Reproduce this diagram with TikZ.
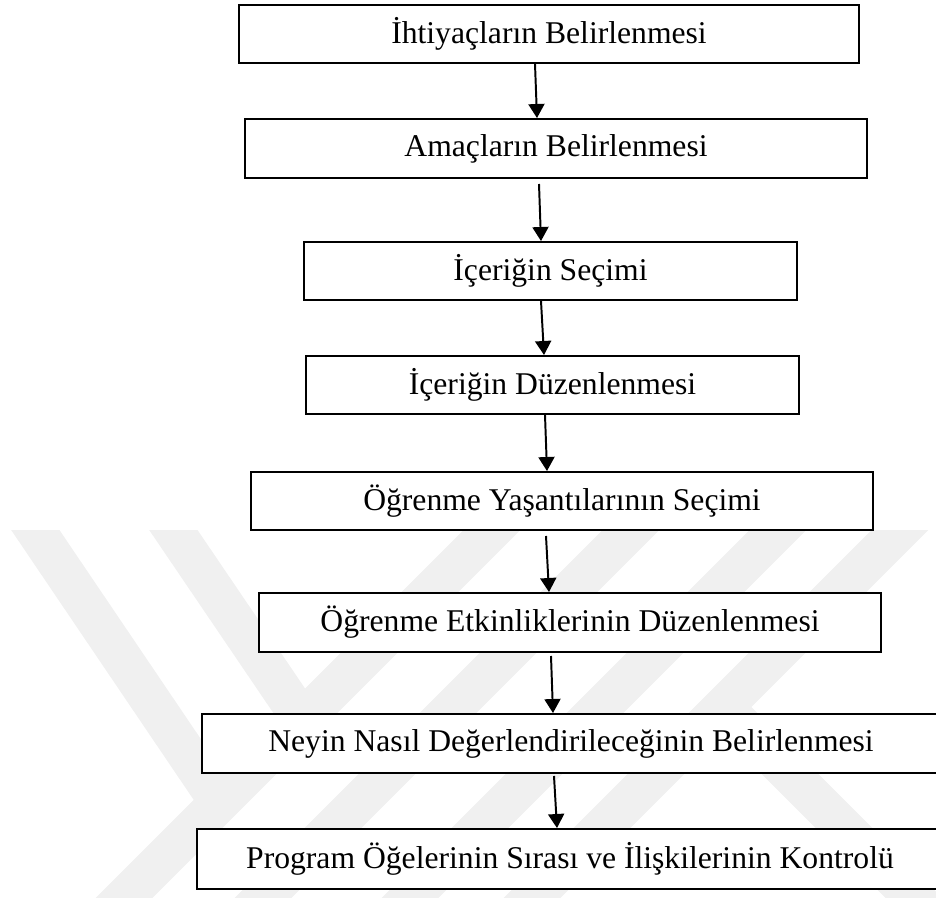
\documentclass[tikz,border=0pt]{standalone}
\usepackage{xcolor}
\usepackage{fontspec}
\setmainfont{Liberation Serif}
\usepackage{tikz}
\usetikzlibrary{arrows.meta,calc}
\newdimen\pxu \pxu=0.025cm
\definecolor{wmgray}{RGB}{240,240,240}
\tikzset{
  stepbox/.style={draw=black, line width=1.4pt, fill=white, inner sep=0pt,
    minimum height=58\pxu, align=center, font=\fontsize{22.5}{27}\selectfont},
  flow/.style={-{Triangle[length=3.5mm, width=4mm]}, line width=1.4pt},
  wmstripe/.style={draw=wmgray, line width=40\pxu, line cap=butt}
}

\begin{document}
\begin{tikzpicture}[x=0.025cm, y=-0.025cm]
\clip (0,0) rectangle (936,897);

% faint background mark
\begin{scope}
\clip (0,530) rectangle (936,897);
\draw[wmstripe] (15,500) -- (222,806);
\draw[wmstripe] (153,500) -- (305,724);
\draw[wmstripe] (102,920) -- (522,500);
\draw[wmstripe] (241,920) -- (661,500);
\draw[wmstripe] (388,920) -- (808,500);
\draw[wmstripe] (510,920) -- (930,500);
\draw[wmstripe] (723,707) -- (936,920);
\end{scope}

\node[stepbox, minimum width=620\pxu] (b1) at (549,34) {İhtiyaçların Belirlenmesi};
\node[stepbox, minimum width=622\pxu, minimum height=59\pxu] (b2) at (556,148.5) {Amaçların Belirlenmesi};
\node[stepbox, minimum width=493\pxu] (b3) at (550.5,271) {İçeriğin Seçimi};
\node[stepbox, minimum width=493\pxu] (b4) at (552.5,385) {İçeriğin Düzenlenmesi};
\node[stepbox, minimum width=622\pxu] (b5) at (562,501) {Öğrenme Yaşantılarının Seçimi};
\node[stepbox, minimum width=622\pxu, minimum height=59\pxu] (b6) at (570,622.5) {Öğrenme Etkinliklerinin Düzenlenmesi};
\node[stepbox, minimum width=738\pxu, minimum height=59\pxu] (b7) at (571,743.5) {Neyin Nasıl Değerlendirileceğinin Belirlenmesi};
\node[stepbox, minimum width=746\pxu, minimum height=60\pxu] (b8) at (570,859) {Program Öğelerinin Sırası ve İlişkilerinin Kontrolü};

\draw[flow] ($(b1.south)+(-14,0)$) -- ($(b2.north)+(-19,0)$);
\draw[flow] ($(b2.south)+(-17,5)$) -- ($(b3.north)+(-9.5,0)$);
\draw[flow] ($(b3.south)+(-9.5,0)$) -- ($(b4.north)+(-8.5,0)$);
\draw[flow] ($(b4.south)+(-7.5,0)$) -- ($(b5.north)+(-15,0)$);
\draw[flow] ($(b5.south)+(-16,5)$) -- ($(b6.north)+(-21,0)$);
\draw[flow] ($(b6.south)+(-19,3)$) -- ($(b7.north)+(-18,0)$);
\draw[flow] ($(b7.south)+(-17,2)$) -- ($(b8.north)+(-13,0)$);
\end{tikzpicture}
\end{document}
